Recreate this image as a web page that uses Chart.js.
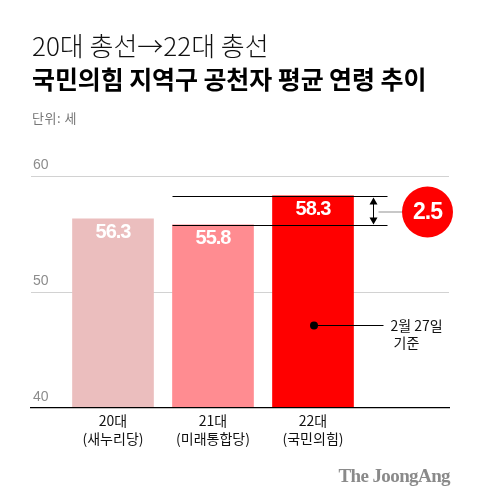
<!DOCTYPE html>
<html><head><meta charset="utf-8">
<script src="https://cdn.jsdelivr.net/npm/chart.js@4"></script>
<style>
html,body{margin:0;padding:0;background:#fff;}
#wrap{position:relative;width:480px;height:504px;overflow:hidden;background:#fff;}
canvas{position:absolute;left:0;top:0;}
.t{position:absolute;left:32px;white-space:nowrap;font-family:"Noto Sans CJK KR",sans-serif;line-height:1;}
</style></head><body>
<div id="wrap">
<canvas id="c" width="480" height="504"></canvas>
<div class="t" style="top:32.4px;font-size:26px;font-weight:300;letter-spacing:0px;color:#111">20대 총선→22대 총선</div>
<div class="t" style="top:66px;font-size:25px;font-weight:700;letter-spacing:-0.1px;color:#000">국민의힘 지역구 공천자 평균 연령 추이</div>
<div class="t" style="top:111.3px;font-size:13px;color:#777;letter-spacing:0.5px">단위: 세</div>
<div style="position:absolute;right:30px;top:466px;font-family:'Liberation Serif',serif;font-weight:700;font-size:19px;line-height:1;color:#8a8a8a;letter-spacing:-0.6px;white-space:nowrap">The JoongAng</div>
</div>
<script>
const categories = ['20대', '21대', '22대'];
const parties = ['(새누리당)', '(미래통합당)', '(국민의힘)'];
const ages = [56.3, 55.8, 58.3];
const yTicks = [40, 50, 60];
const barColors = ['#EBBEBE', '#FF8C91', '#FF0000'];
const noteLines = ['2월 27일', '기준'];

const KR = "'Noto Sans CJK KR', sans-serif";
const NUM = "'Liberation Sans', Arial, sans-serif";

const annot = {
  id: 'annot',
  afterDatasetsDraw(chart) {
    const ctx = chart.ctx;
    const bars = chart.getDatasetMeta(0).data;
    const ys = chart.scales.y;
    ctx.save();
    // value labels
    ctx.fillStyle = '#fff';
    ctx.textAlign = 'center';
    ctx.textBaseline = 'middle';
    ctx.font = "bold 20px " + NUM;
    try { ctx.letterSpacing = '-1px'; } catch (e) {}
    bars.forEach((b, i) => {
      ctx.fillText(ages[i].toFixed(1), b.x, b.y + 14);
    });
    try { ctx.letterSpacing = '0px'; } catch (e) {}

    const b2 = bars[1], b3 = bars[2];
    const yHi = Math.round(ys.getPixelForValue(ages[2])) + 0.5;
    const yLo = Math.round(ys.getPixelForValue(ages[1])) + 0.5;
    const x1 = b2.x - b2.width / 2;
    const right3 = b3.x + b3.width / 2;
    const x2 = right3 + 34;
    ctx.strokeStyle = '#000';
    ctx.lineWidth = 1;
    ctx.beginPath();
    ctx.moveTo(x1, yHi); ctx.lineTo(x2, yHi);
    ctx.moveTo(x1, yLo); ctx.lineTo(x2, yLo);
    ctx.stroke();

    // double arrow
    const ax = Math.round(right3 + 19) + 0.5;
    ctx.beginPath();
    ctx.moveTo(ax, yHi + 6); ctx.lineTo(ax, yLo - 6);
    ctx.stroke();
    ctx.fillStyle = '#000';
    ctx.beginPath();
    ctx.moveTo(ax, yHi + 1); ctx.lineTo(ax - 4, yHi + 8); ctx.lineTo(ax + 4, yHi + 8); ctx.closePath();
    ctx.moveTo(ax, yLo - 1); ctx.lineTo(ax - 4, yLo - 8); ctx.lineTo(ax + 4, yLo - 8); ctx.closePath();
    ctx.fill();

    // connector + circle
    const midY = (yHi + yLo) / 2 + 1;
    const cx = ax + 54, r = 25.5;
    ctx.strokeStyle = '#c8c8c8';
    ctx.lineWidth = 2;
    ctx.beginPath();
    ctx.moveTo(ax + 5, midY); ctx.lineTo(cx - r, midY);
    ctx.stroke();
    ctx.fillStyle = '#FF0000';
    ctx.beginPath();
    ctx.arc(cx, midY, r, 0, Math.PI * 2);
    ctx.fill();
    ctx.fillStyle = '#fff';
    ctx.font = "bold 23px " + NUM;
    try { ctx.letterSpacing = '-1px'; } catch (e) {}
    ctx.fillText((ages[2] - ages[1]).toFixed(1), cx, midY + 1);
    try { ctx.letterSpacing = '0px'; } catch (e) {}

    // note dot
    const dy = Math.round(ys.getPixelForValue(47.15)) + 0.5;
    const dx = b3.x + 1;
    ctx.strokeStyle = '#000';
    ctx.lineWidth = 1;
    ctx.beginPath();
    ctx.moveTo(dx, dy); ctx.lineTo(ax + 10, dy);
    ctx.stroke();
    ctx.fillStyle = '#000';
    ctx.beginPath();
    ctx.arc(dx, dy, 4, 0, Math.PI * 2);
    ctx.fill();
    ctx.fillStyle = '#111';
    ctx.textAlign = 'left';
    ctx.font = "14px " + KR;
    ctx.fillText(noteLines[0], ax + 17, dy + 0.5);
    ctx.fillText(noteLines[1], ax + 20, dy + 17);
    ctx.restore();
  }
};

new Chart(document.getElementById('c'), {
  type: 'bar',
  data: {
    datasets: [{
      data: ages.map((v, i) => ({ x: i, y: v })),
      backgroundColor: barColors,
      barThickness: 81
    }]
  },
  options: {
    responsive: false,
    animation: false,
    devicePixelRatio: 1,
    layout: { padding: { left: 31, right: 31, top: 176, bottom: 0 } },
    plugins: { legend: { display: false }, tooltip: { enabled: false } },
    scales: {
      x: {
        type: 'linear',
        offset: false,
        min: -0.82,
        max: 3.36,
        afterBuildTicks: s => { s.ticks = categories.map((_, i) => ({ value: i })); },
        grid: { display: false, drawTicks: false, offset: false },
        border: { display: true, color: '#000', width: 1.2, z: 1 },
        ticks: {
          autoSkip: false,
          maxRotation: 0,
          padding: 4,
          color: '#111',
          font: { family: KR, size: 14, lineHeight: 1.25 },
          callback: v => [categories[v], parties[v]]
        },
        afterFit: s => { s.height = 96; s.paddingLeft = 0; s.paddingRight = 0; }
      },
      y: {
        min: 40,
        max: 60,
        afterBuildTicks: s => { s.ticks = yTicks.map(v => ({ value: v })); },
        grid: {
          drawTicks: false,
          color: c => (c.tick && c.tick.value === 40) ? 'rgba(0,0,0,0)' : '#d2d2d2',
          lineWidth: 1
        },
        border: { display: false },
        ticks: {
          mirror: true,
          padding: 2,
          labelOffset: -11,
          color: '#8c8c8c',
          font: { family: NUM, size: 14 }
        },
        afterFit: s => { s.width = 0; s.paddingTop = 0; s.paddingBottom = 0; }
      }
    }
  },
  plugins: [annot]
});
</script>
</body></html>
